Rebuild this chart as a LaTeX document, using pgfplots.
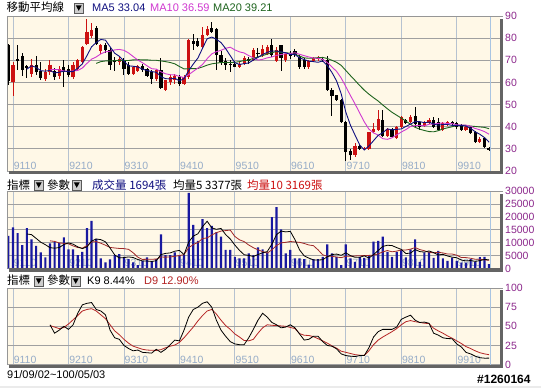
\documentclass[border=0pt]{standalone}
\usepackage{pgfplots}
\pgfplotsset{compat=1.18}
\usepackage{pgfplotstable}
\usepackage{fontspec}
\setmainfont{Liberation Sans}
\newfontfamily\cjk{Noto Sans CJK TC}

\definecolor{cream}{RGB}{255,248,231}
\definecolor{cred}{RGB}{204,17,17}
\definecolor{gridgray}{RGB}{160,160,160}
\definecolor{gridblue}{RGB}{182,194,208}
\definecolor{tickblue}{RGB}{150,172,200}
\definecolor{purp}{RGB}{140,40,140}
\definecolor{navyc}{RGB}{16,16,128}
\definecolor{magc}{RGB}{208,56,208}
\definecolor{greenc}{RGB}{30,100,30}
\definecolor{volblue}{RGB}{24,24,160}
\definecolor{vredc}{RGB}{160,40,40}
\definecolor{dredc}{RGB}{180,36,36}
\definecolor{shadowc}{RGB}{100,100,100}
\definecolor{framec}{RGB}{150,150,150}
\definecolor{cursorc}{RGB}{168,196,226}
\definecolor{boxgray}{RGB}{205,205,205}

\newcommand{\lblfont}{\fontsize{10.5}{12}\selectfont}

% candles: i open high low close
\pgfplotstableread{
i o h l c
1 60.3 69 54 67.8
5 64 70.5 62.5 68
8 61.5 66 60.5 64.5
9 64.5 70 63.5 68
11 63 67.5 61.5 66
14 62.5 69 61.5 68
15 66 70.5 65.5 70
16 69 76.5 68.5 76
17 77.5 88.5 77 83
18 81 87 80 83.5
20 74 77.5 73 77
24 69 71.5 68 70.5
27 64 67.5 63.5 67
28 65 68 64.5 67.5
32 61.5 66 60.5 65.5
34 56.5 61 56 61
35 60 63.5 59 62.5
36 61 64 59.5 63
38 59.5 63.5 59 62.5
39 62.5 79.5 61.5 79
42 76 85 75.5 81.5
43 81.5 85.5 81 84
50 67 69 66.5 68.5
51 68.5 72 68 71
53 70 75.5 69.5 74.5
55 72.5 77 71.5 75
56 73 77 72.5 76
58 69.5 76 69 74.5
60 70 73.5 69 73
65 67 70 66 69.5
66 69.5 71.5 69 71
67 70.5 72 69.5 71
75 27 32.5 26.5 31.5
77 30 31 29.5 30.5
78 30 37.5 29.5 37.5
79 37.5 41.5 37 39
80 38.5 47.5 38 43.5
82 36 39.5 35.5 39
84 35 40.5 34.5 40
85 40 45 39.5 44.5
87 42 45.5 41.5 44.5
90 40.5 42.5 40 42
91 41.5 44 41 43
94 38.5 42 38 41.5
95 41 42.5 40.5 42
99 38.5 40.5 38 40
102 33 35.5 32.5 34.5
}\redc

\pgfplotstableread{
i o h l c
0 77 77.5 59 60.5
2 70.5 77 65.5 69.5
3 72 73.5 63 65.5
4 67.5 68 62 66.5
6 68 72 63.5 64.5
7 65 69 61 62
10 65 66.5 61 62.5
12 67 70 58 64.5
13 66 68 62.5 63.5
19 84.5 85.5 77 77.5
21 77 78 73.5 74.5
22 74.5 75.5 65.5 68
23 70 71.5 65 69
25 69.5 71 63.5 66
26 68 69 63.5 64
29 67.5 68.5 64.5 65.5
30 66 66.5 62.5 63
31 64.5 65.5 59.5 61.5
33 65.5 71 57 57.5
37 62.5 63.5 58.5 59.5
40 78.5 82 74.5 77.5
41 78.5 80 76 76.5
44 84.5 87.5 82.5 83
45 84 84.5 65.5 72.5
46 72.5 74 68 69
47 69.5 71 65.5 68
48 68.5 70 64.5 68
49 68.5 69.5 67 67
52 70.5 71.5 68.5 69.5
54 73.5 75.5 71.5 73
57 77 79.5 71.5 72.5
59 77 77 65 71
61 73 74 70.5 72
62 74 75 71.5 72.5
63 71.5 72.5 66 67
64 70 71 66 67
68 70.5 71 69 70
69 70 72 56 56.5
70 56.8 57.5 45 53.8
71 54.2 54.5 51.5 52
72 52 52.5 41.5 42
73 42 42.5 24.7 28.5
74 29 30 25 27
76 31.5 32 29.5 30
81 43 47.5 35.5 36
83 39 39.5 35 35.5
86 43 43.5 41 41.5
88 45 49 40 41
89 42 42.5 38.5 40
92 43 44.5 39.5 40
93 42 44 38 38.5
96 42 42.5 40.5 41
97 41.5 42 39 40
98 40.5 41 38 38.5
100 40 40.5 36.5 37
101 37.5 38 32.5 33
103 35 35.5 30.5 30.8
104 30.5 31 29 29.5
}\blackc

% i volume vma5 vma10 K D ma5 ma10 ma20
\pgfplotstableread{
i v vm5 vm10 k d m5 m10 m20
0 12650 nan nan nan nan nan nan nan
1 16000 nan nan nan nan nan nan nan
2 13700 nan nan nan nan nan nan nan
3 9100 nan nan nan nan nan nan nan
4 15650 13420 nan nan nan 66.0 nan nan
5 11350 13160 nan nan nan 67.5 nan nan
6 8750 11710 nan nan nan 66.8 nan nan
7 6250 10220 nan nan nan 65.3 nan nan
8 4300 9260 nan nan nan 65.1 nan nan
9 9800 8090 10755 52 51 65.4 65.7 nan
10 10400 7900 10530 41 49 64.3 65.9 nan
11 10000 8150 9930 45 47 64.6 65.7 nan
12 12100 9320 9770 50 48.5 65.1 65.2 nan
13 7400 9940 9600 46 53 64.9 65.0 nan
14 7400 9460 8775 52 58.5 64.9 65.2 nan
15 5200 8420 8160 67 64 66.4 65.4 nan
16 6500 7720 7935 78 70 68.4 66.5 nan
17 15650 8430 8875 80 72 72.1 68.6 nan
18 18500 10650 10295 81 73 76.1 70.5 nan
19 11500 11470 10465 72 70 78.0 71.5 68.6
20 3900 11210 9815 70 65 79.4 72.9 69.4
21 2350 10380 9050 65 60 79.1 73.8 69.7
22 3500 7950 8190 45 52 76.1 74.1 69.7
23 5200 5290 7970 35 44 73.2 74.7 69.8
24 5600 4110 7790 33 39 71.8 74.9 70.0
25 4550 4240 7725 25 33 69.6 74.5 69.9
26 3650 4500 7440 21 28 67.5 73.3 69.9
27 2350 4270 6110 18 24 67.3 71.7 70.2
28 1300 3490 4390 19 22 67.0 70.1 70.3
29 2900 2950 3530 16 20 66.0 68.9 70.2
30 4300 2900 3570 15.5 19 65.4 67.5 70.2
31 2900 2750 3625 15 18.7 64.9 66.2 70.0
32 3650 3010 3640 20 18.5 64.6 66.0 70.0
33 13300 5410 4450 16 19.5 62.6 64.8 69.7
34 5200 5870 4410 20 22 61.7 63.9 69.4
35 5200 6050 4475 26 24 61.6 63.5 69.0
36 6250 6720 4735 32 25.5 61.9 63.4 68.4
37 5200 7030 5020 31 29 60.7 62.7 67.2
38 5200 5410 5410 45 35 61.7 62.2 66.1
39 29350 10240 8055 62 42 65.3 63.5 66.2
40 16950 12590 9320 72 49 68.3 65.0 66.2
41 10700 13480 10100 75 57 71.0 66.5 66.3
42 19150 16270 11650 80 64 75.4 68.1 67.0
43 15650 18360 11885 82 70 79.7 70.7 67.8
44 16550 15800 13020 75 72 80.5 72.9 68.4
45 14100 15230 13910 58 66 79.5 73.9 68.7
46 12400 15570 14525 45 58 78.0 74.5 69.0
47 7200 13180 14725 37 51 75.3 75.4 69.0
48 7200 11490 14925 30 46 72.1 75.9 69.0
49 4550 9090 12445 27 40 68.9 74.7 69.1
50 3900 7050 11140 26 36 68.1 73.8 69.4
51 3900 5350 10460 26 31.5 68.5 73.3 69.9
52 5850 5080 9130 35 31 68.8 72.1 70.1
53 5200 4680 8085 46 33 70.1 71.1 70.9
54 8200 5410 7250 58 41 71.3 70.1 71.5
55 7400 6110 6580 67 48 72.6 70.4 72.1
56 6250 6580 5965 62 52 73.6 71.1 72.8
57 19950 9400 7240 55 51.3 74.2 71.5 73.4
58 23850 13130 8905 52 51 74.2 72.2 74.0
59 15250 14540 9975 48 50.5 73.8 72.6 73.6
60 5850 14230 10170 49 50 73.4 73.0 73.4
61 7200 14420 10500 52 48.5 72.6 73.1 73.2
62 3900 11210 10305 48 47 72.6 73.4 72.7
63 3900 7220 10175 40 40.5 71.1 72.7 71.9
64 3650 4900 9720 32 38.3 70.3 72.1 71.1
65 1550 4040 9135 33 38 69.6 71.5 70.9
66 3650 3330 8875 37 36.5 69.4 71.0 71.0
67 3650 3280 7245 37 33.8 69.1 70.9 71.2
68 4550 3410 5315 30 31 69.7 70.4 71.3
69 9400 4560 4730 25 28 67.6 69.0 70.8
70 5850 5420 4730 24 24.5 64.5 67.0 70.0
71 4550 5600 4465 20.6 21.5 60.7 65.0 69.1
72 1300 5130 4205 14 17.5 54.9 62.0 67.7
73 9400 6100 4755 11.8 16 46.6 58.1 65.4
74 3900 5000 4780 11 14.5 40.7 54.1 63.1
75 2600 4350 4885 10.5 13 36.2 50.3 60.9
76 4550 4350 4975 11.8 12.3 31.8 46.2 58.6
77 4150 4920 5025 11.8 12 29.5 42.2 56.5
78 5200 4080 5090 22 18 31.3 38.9 54.7
79 10400 5380 5190 36 26 33.7 37.2 53.1
80 10700 7000 5675 43 32 36.1 36.2 51.6
81 12400 8570 6460 46 36 37.3 34.6 49.8
82 6500 9040 6980 46 39.5 39.0 34.3 48.1
83 4550 8910 6495 46 43 38.6 35.0 46.5
84 6500 8130 6755 49 47 38.8 36.3 45.2
85 7200 7430 7215 59 52 39.0 37.6 43.9
86 4300 5810 7190 62 56 40.1 38.7 42.5
87 7400 5990 7515 64.5 57.5 41.2 40.1 41.1
88 11350 7350 8130 58 56 42.3 40.5 39.7
89 2600 6570 7350 55 55 42.3 40.6 38.9
90 6250 6380 6905 55.5 54 41.8 40.4 38.3
91 6500 6820 6315 54 53.5 42.1 41.1 37.8
92 4150 6170 6080 41 47.5 41.2 41.2 37.7
93 6800 5260 6305 38.5 44 40.7 41.5 38.2
94 3900 5520 6045 35 41 41.0 41.7 39.0
95 3000 4870 5625 34 37.5 41.0 41.4 39.5
96 4200 4410 5615 33.8 34.5 40.6 41.4 40.0
97 3000 4180 5175 27 31 40.6 40.9 40.5
98 2300 3280 4270 23 27.5 40.6 40.7 40.6
99 2300 2960 4240 16 23.5 40.3 40.7 40.6
100 3650 3090 3980 14 21 39.3 40.2 40.3
101 2600 2770 3590 11 18 37.7 39.2 40.1
102 4450 3060 3620 9 15.5 36.6 38.6 39.9
103 4500 3500 3390 8.4 14 35.1 37.8 39.7
104 1694 3379 3169 8.44 12.9 33.0 36.6 39.1
}\main

\pgfplotsset{
  panel/.style={
    scale only axis, width=493pt, xmin=-0.3, xmax=106.36,
    axis background/.style={fill=cream},
    axis line style={draw=none},
    major tick length=0pt,
    scaled y ticks=false,
    xtick={1,13,25,37,49,61,73,85,97},
    xticklabels={9110,9210,9310,9410,9510,9610,9710,9810,9910},
    xticklabel style={anchor=south west, inner sep=0pt, xshift=0.6pt, yshift=1.2pt, text=tickblue, font=\lblfont},
    xmajorgrids, ymajorgrids,
    major x grid style={gridblue, line width=0.8pt},
    major y grid style={gridgray, line width=0.8pt},
    yticklabel pos=right,
    yticklabel style={anchor=west, inner sep=0pt, xshift=5pt, text=purp, font=\lblfont},
  },
  wick/.style={draw=none, mark=none, forget plot, error bars/.cd, y dir=both, y explicit, error mark=none, error bar style={draw=#1, line width=1pt, solid}},
  body/.style 2 args={draw=none, mark=none, forget plot, error bars/.cd, y dir=#2, y explicit, error mark=none, error bar style={draw=#1, line width=3.2pt, line cap=butt, solid}},
}
\tikzset{
  hd/.style={anchor=base west, inner sep=0pt, font=\fontsize{11}{13}\selectfont},
  hdc/.style={anchor=base west, inner sep=0pt, font=\cjk\fontsize{11.5}{13}\selectfont},
}

\newcommand{\dbox}[2]{%
  \begin{scope}[shift={(#1pt,#2pt)}]
    \fill[boxgray] (0,0) rectangle (9.5pt,10pt);
    \draw[black!65, line width=0.6pt] (0,0) rectangle (9.5pt,10pt);
    \fill[black] (1.8pt,7.6pt) -- (7.7pt,7.6pt) -- (4.75pt,2.2pt) -- cycle;
  \end{scope}}

\begin{document}
\begin{tikzpicture}
\useasboundingbox (0,0) rectangle (541pt,388pt);
\fill[white] (0,0) rectangle (541pt,388pt);
\fill[black!8] (0,0) rectangle (541pt,1.6pt);

% ---------- price panel ----------
\begin{axis}[panel, at={(7pt,217pt)}, anchor=south west, height=155pt,
  ymin=20, ymax=90, ytick={20,30,40,50,60,70,80,90},
  yticklabels={20,30,40,50,60,70,80,90}]
\addplot[wick=cred] table[x=i, y=c, y error plus expr=\thisrow{h}-\thisrow{c}, y error minus expr=\thisrow{c}-\thisrow{l}] \redc;
\addplot[body={cred}{minus}] table[x=i, y=c, y error minus expr=\thisrow{c}-\thisrow{o}] \redc;
\addplot[wick=black] table[x=i, y=c, y error plus expr=\thisrow{h}-\thisrow{c}, y error minus expr=\thisrow{c}-\thisrow{l}] \blackc;
\addplot[body={black}{plus}] table[x=i, y=c, y error plus expr=\thisrow{o}-\thisrow{c}] \blackc;
\addplot[greenc, line width=0.9pt, mark=none] table[x=i, y=m20] \main;
\addplot[magc, line width=0.9pt, mark=none] table[x=i, y=m10] \main;
\addplot[navyc, line width=0.9pt, mark=none] table[x=i, y=m5] \main;
\addplot[cursorc, line width=1.4pt, mark=none] coordinates {(104.3,20) (104.3,90)};
\end{axis}

% ---------- volume panel ----------
\begin{axis}[panel, at={(7pt,119.5pt)}, anchor=south west, height=77.2pt,
  ymin=0, ymax=30000, ytick={0,5000,10000,15000,20000,25000,30000},
  yticklabels={0,5000,10000,15000,20000,25000,30000}]
\addplot[ybar, bar width=2.2pt, fill=volblue, draw=none] table[x=i, y=v] \main;
\addplot[vredc, line width=0.8pt, mark=none] table[x=i, y=vm10] \main;
\addplot[black, line width=0.8pt, mark=none] table[x=i, y=vm5] \main;
\addplot[cursorc, line width=1.4pt, mark=none] coordinates {(104.3,0) (104.3,30000)};
\end{axis}

% ---------- KD panel ----------
\begin{axis}[panel, at={(7pt,23.4pt)}, anchor=south west, height=76.6pt,
  ymin=0, ymax=100, ytick={0,25,50,75,100},
  yticklabels={0,25,50,75,100}]
\addplot[dredc, line width=0.8pt, mark=none] table[x=i, y=d] \main;
\addplot[black, line width=0.8pt, mark=none] table[x=i, y=k] \main;
\addplot[cursorc, line width=1.4pt, mark=none] coordinates {(104.3,0) (104.3,100)};
\end{axis}

% ---------- frames and shadows ----------
\fill[shadowc] (9pt,213.5pt) rectangle (503pt,217pt);
\fill[shadowc] (500pt,213.5pt) rectangle (503pt,369pt);
\draw[framec, line width=0.7pt] (7pt,217pt) -- (7pt,372pt) -- (503pt,372pt);
\fill[shadowc] (9pt,116pt) rectangle (503pt,119.5pt);
\fill[shadowc] (500pt,116pt) rectangle (503pt,194pt);
\draw[framec, line width=0.7pt] (7pt,119.5pt) -- (7pt,196.7pt) -- (503pt,196.7pt);
\fill[shadowc] (9pt,19.9pt) rectangle (503pt,23.4pt);
\fill[shadowc] (500pt,19.9pt) rectangle (503pt,97.5pt);
\draw[framec, line width=0.7pt] (7pt,23.4pt) -- (7pt,100pt) -- (503pt,100pt);

% ---------- headers ----------
\node[hdc] at (6.5pt,376pt) {移動平均線};
\dbox{74}{375}
\node[hd, text=navyc] at (92pt,376pt) {MA5 33.04};
\node[hd, text=magc] at (150pt,376pt) {MA10 36.59};
\node[hd, text=greenc] at (213pt,376pt) {MA20 39.21};

\node[hdc] at (7pt,198pt) {指標};
\dbox{34}{198}
\node[hdc] at (47pt,198pt) {參數};
\dbox{72}{198}
\node[hdc, text=navyc] at (92pt,198pt) {成交量 1694張};
\node[hdc] at (173pt,198pt) {均量5 3377張};
\node[hdc, text=cred] at (247pt,198pt) {均量10 3169張};

\node[hdc] at (7pt,103pt) {指標};
\dbox{34}{102}
\node[hdc] at (47pt,103pt) {參數};
\dbox{71}{102}
\node[hd] at (87pt,103pt) {K9 8.44\%};
\node[hd, text=dredc] at (144pt,103pt) {D9 12.90\%};

\node[hd] at (7pt,9pt) {91/09/02\textasciitilde 100/05/03};
\node[anchor=base west, inner sep=0pt, font=\bfseries\fontsize{12}{14}\selectfont] at (477pt,4pt) {\#1260164};
\end{tikzpicture}
\end{document}
